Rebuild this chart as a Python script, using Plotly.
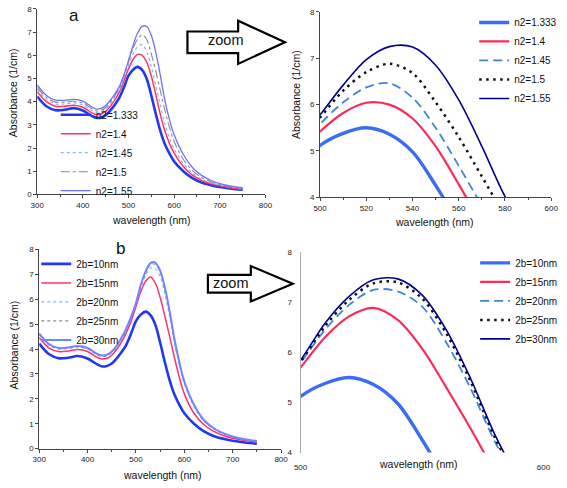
import plotly.graph_objects as go

W, H = 567, 488

# ---------------- data ----------------
wavelength = [300, 320, 340, 360, 380, 400, 420, 430, 440, 450, 460, 470, 480, 490,
              500, 510, 520, 530, 540, 550, 560, 570, 580, 590, 600, 620, 640, 660,
              680, 700, 725, 750]

n2_labels = ["n2=1.333", "n2=1.4", "n2=1.45", "n2=1.5", "n2=1.55"]
n2_1333 = [4.22, 3.80, 3.63, 3.65, 3.72, 3.62, 3.38, 3.30, 3.32, 3.42, 3.62, 3.87, 4.17, 4.62,
           5.12, 5.38, 5.50, 5.36, 4.98, 4.26, 3.45, 2.72, 2.15, 1.75, 1.42, 1.00, 0.70, 0.51,
           0.40, 0.32, 0.25, 0.20]
n2_140 = [4.43, 4.00, 3.80, 3.80, 3.85, 3.76, 3.52, 3.44, 3.47, 3.58, 3.80, 4.08, 4.42, 4.90,
          5.42, 5.82, 6.04, 6.00, 5.70, 5.10, 4.28, 3.42, 2.72, 2.18, 1.78, 1.20, 0.83, 0.60,
          0.46, 0.37, 0.28, 0.23]
n2_145 = [4.53, 4.10, 3.90, 3.90, 3.95, 3.86, 3.62, 3.54, 3.57, 3.68, 3.90, 4.18, 4.52, 5.02,
          5.58, 6.05, 6.37, 6.46, 6.15, 5.50, 4.68, 3.82, 3.02, 2.42, 1.97, 1.33, 0.92, 0.66,
          0.50, 0.40, 0.31, 0.25]
n2_150 = [4.62, 4.18, 3.98, 3.98, 4.02, 3.94, 3.69, 3.60, 3.63, 3.75, 3.98, 4.26, 4.60, 5.12,
          5.72, 6.30, 6.70, 6.88, 6.68, 6.05, 5.30, 4.45, 3.60, 2.87, 2.28, 1.52, 1.03, 0.73,
          0.55, 0.43, 0.33, 0.27]
n2_155 = [4.72, 4.27, 4.07, 4.06, 4.10, 4.02, 3.77, 3.68, 3.71, 3.83, 4.06, 4.33, 4.65, 5.15,
          5.78, 6.42, 6.97, 7.25, 7.24, 6.85, 6.10, 5.10, 4.02, 3.20, 2.57, 1.72, 1.16, 0.82,
          0.61, 0.47, 0.36, 0.29]

b_labels = ["2b=10nm", "2b=15nm", "2b=20nm", "2b=25nm", "2b=30nm"]
b_10 = [4.22, 3.80, 3.63, 3.65, 3.72, 3.62, 3.38, 3.30, 3.32, 3.42, 3.62, 3.87, 4.17, 4.62,
        5.12, 5.38, 5.50, 5.36, 4.98, 4.26, 3.45, 2.72, 2.15, 1.75, 1.42, 1.00, 0.70, 0.51,
        0.40, 0.32, 0.25, 0.20]
b_15 = [4.46, 4.05, 3.90, 3.92, 3.98, 3.90, 3.66, 3.60, 3.63, 3.75, 3.98, 4.28, 4.65, 5.12,
        5.70, 6.30, 6.72, 6.89, 6.65, 6.08, 5.30, 4.48, 3.62, 2.84, 2.20, 1.42, 0.97, 0.70,
        0.53, 0.42, 0.33, 0.27]
b_20 = [4.58, 4.16, 4.00, 4.02, 4.08, 4.00, 3.76, 3.70, 3.73, 3.85, 4.08, 4.40, 4.78, 5.25,
        5.80, 6.45, 6.95, 7.25, 7.22, 6.92, 6.20, 5.28, 4.22, 3.35, 2.62, 1.70, 1.12, 0.80,
        0.60, 0.47, 0.36, 0.30]
b_25 = [4.60, 4.18, 4.02, 4.04, 4.10, 4.02, 3.78, 3.72, 3.75, 3.87, 4.10, 4.42, 4.80, 5.28,
        5.82, 6.52, 7.05, 7.38, 7.40, 7.08, 6.38, 5.42, 4.30, 3.40, 2.67, 1.73, 1.14, 0.82,
        0.61, 0.48, 0.37, 0.30]
b_30 = [4.63, 4.20, 4.04, 4.06, 4.12, 4.04, 3.80, 3.74, 3.77, 3.90, 4.13, 4.45, 4.83, 5.30,
        5.85, 6.58, 7.12, 7.45, 7.47, 7.15, 6.45, 5.48, 4.36, 3.45, 2.70, 1.76, 1.16, 0.83,
        0.62, 0.49, 0.38, 0.31]

main_ticks = [300, 400, 500, 600, 700, 800]
zoom_a_ticks = [500, 520, 540, 560, 580, 600]
zoom_b_ticks = [500, 600]
abs_ticks = [0, 1, 2, 3, 4, 5, 6, 7, 8]
zoom_abs_ticks = [4, 5, 6, 7, 8]

# ---------------- styles ----------------
FONT = "Liberation Sans, Arial, sans-serif"
main_a_style = [("#2238f0", 2.6, "solid"), ("#ff3366", 1.5, "solid"), ("#86b8ea", 1.2, "dot"),
                ("#8a8a8a", 1.1, "dashdot"), ("#6f6fff", 1.3, "solid")]
main_b_style = [("#2238f0", 2.6, "solid"), ("#ff3366", 1.5, "solid"), ("#86b8ea", 1.2, "dot"),
                ("#8a8a8a", 1.1, "dot"), ("#7384ff", 2.0, "solid")]
zoom_style = [("#3a6cf4", 3.4, "solid"), ("#ff2a55", 2.2, "solid"), ("#3d85d8", 1.8, "9px,5px"),
              ("#111111", 2.5, "2.5px,4.5px"), ("#000090", 1.6, "solid")]

def px(x):
    return x / W

def py(y):
    return 1 - y / H

fig = go.Figure()

n2_series = [n2_1333, n2_140, n2_145, n2_150, n2_155]
b_series = [b_10, b_15, b_20, b_25, b_30]

def add_set(series, labels, styles, xa, ya, leg):
    for vals, name, (c, w, d) in zip(series, labels, styles):
        fig.add_trace(go.Scatter(x=wavelength, y=vals, name=name, mode="lines",
                                 line=dict(color=c, width=w, dash=d, shape="spline", smoothing=0.9),
                                 xaxis=xa, yaxis=ya, legend=leg, hoverinfo="skip"))

add_set(n2_series, n2_labels, main_a_style, "x", "y", "legend")
add_set(n2_series, n2_labels, zoom_style, "x2", "y2", "legend2")
add_set(b_series, b_labels, main_b_style, "x3", "y3", "legend3")
add_set(b_series, b_labels, zoom_style, "x4", "y4", "legend4")

def axis(domain, rng, tickvals, anchor, minor=None, linecolor="#444", ticks="outside",
         showline=True, standoff=0):
    d = dict(domain=domain, range=rng, tickvals=tickvals, anchor=anchor,
             showline=showline, linecolor=linecolor, linewidth=1, ticks=ticks, ticklen=3,
             tickcolor=linecolor, tickfont=dict(family=FONT, size=8, color="#222"),
             showgrid=False, zeroline=False, fixedrange=True, ticklabelstandoff=standoff)
    if minor:
        d["minor"] = dict(dtick=minor, ticks="outside", ticklen=2, tickcolor=linecolor)
    return d

leg_common = dict(xanchor="left", yanchor="top", bgcolor="rgba(0,0,0,0)",
                  font=dict(family=FONT, size=10, color="#111"), itemwidth=30,
                  tracegroupgap=0)

fig.update_layout(
    width=W, height=H, margin=dict(l=0, r=0, t=0, b=0),
    paper_bgcolor="white", plot_bgcolor="white",
    font=dict(family=FONT, color="#111"),
    xaxis=axis([px(31), px(265)], [300, 800], main_ticks, "y", minor=50),
    yaxis=axis([py(194), py(5)], [0, 8], abs_ticks, "x"),
    xaxis2=axis([px(321), px(558)], [500, 600], zoom_a_ticks, "y2", minor=10),
    yaxis2=axis([py(197), py(8)], [4, 8], zoom_abs_ticks, "x2"),
    xaxis3=axis([px(33), px(281)], [300, 800], main_ticks, "y3", minor=50),
    yaxis3=axis([py(453), py(250)], [0, 8], abs_ticks, "x3"),
    xaxis4=axis([px(301), px(550)], [500, 600], zoom_b_ticks, "y4", ticks="",
                showline=False, linecolor="#aaa", standoff=8),
    yaxis4=axis([py(457), py(253)], [4, 8], zoom_abs_ticks, "x4", ticks="",
                linecolor="#aaa", standoff=6),
    legend=dict(x=px(50), y=py(98), **leg_common),
    legend2=dict(x=px(479), y=py(4), **leg_common),
    legend3=dict(x=px(30), y=py(250), **leg_common),
    legend4=dict(x=px(480), y=py(249), **leg_common),
    showlegend=True,
)

def ann(x, y, text, size=10.5, angle=0):
    fig.add_annotation(x=px(x), y=py(y), xref="paper", yref="paper", text=text,
                       showarrow=False, textangle=angle, xanchor="center", yanchor="middle",
                       font=dict(family=FONT, size=size, color="#111"))

ann(148, 220, "wavelength (nm)")
ann(159, 480, "wavelength (nm)")
ann(438, 222, "wavelength (nm)")
ann(422, 469, "wavelength (nm)")
ann(7, 90, "Absorbance (1/cm)", angle=-90)
ann(297, 92, "Absorbance (1/cm)", angle=-90)
ann(7, 347, "Absorbance (1/cm)", angle=-90)
ann(69, 12, "a", size=17)
ann(116, 249, "b", size=17)
ann(224, 37, "zoom", size=14.5)
ann(229, 284, "zoom", size=14.5)

def arrow(pts):
    path = "M " + " L ".join(f"{px(x):.5f},{py(y):.5f}" for x, y in pts) + " Z"
    fig.add_shape(type="path", path=path, xref="paper", yref="paper",
                  line=dict(color="black", width=2.2), fillcolor="white", layer="above")

arrow([(185, 28), (237, 28), (237, 17), (285, 39), (237, 61), (237, 50), (185, 50)])
arrow([(206, 276), (250, 276), (250, 267), (293, 285), (250, 303), (250, 294), (206, 294)])

fig.write_html("out.html", config={"displayModeBar": False},
               post_script="document.body.style.margin='0';")
